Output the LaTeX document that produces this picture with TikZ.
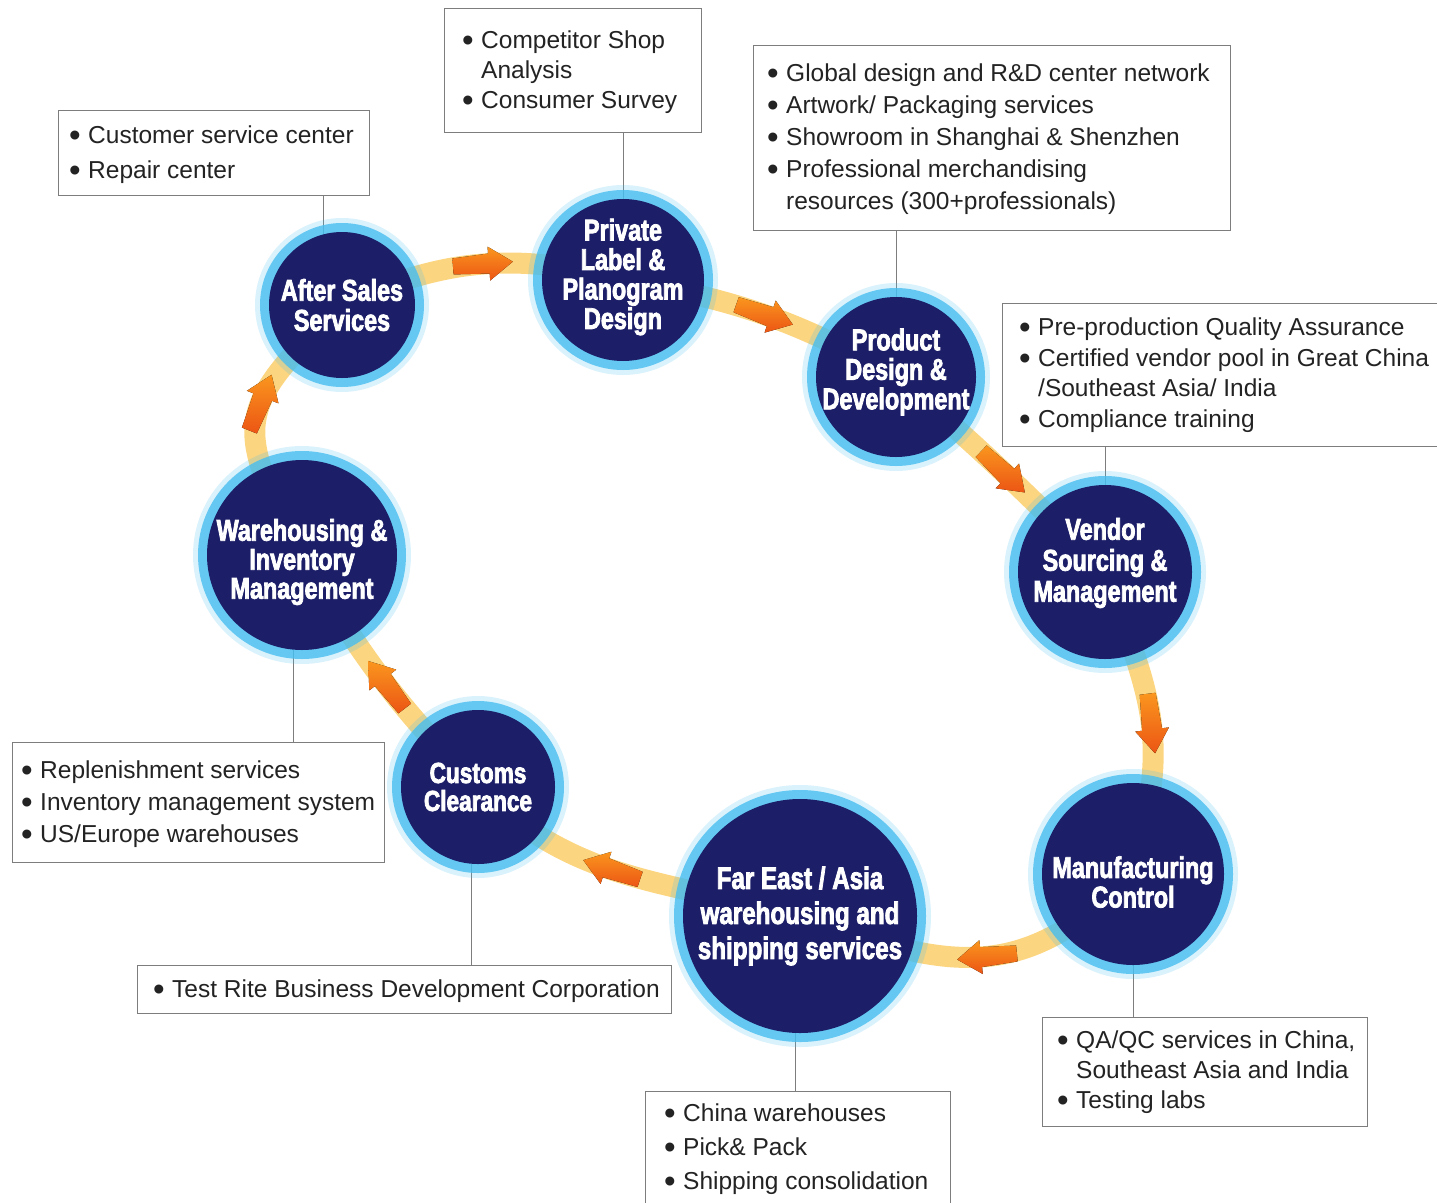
\documentclass[tikz,border=0pt]{standalone}
\usepackage{fontspec}
\setmainfont{Liberation Sans}
\newfontfamily\stepfont[FakeStretch=0.78,FakeBold=2.5]{Liberation Sans Bold}
\usetikzlibrary{arrows.meta,decorations.markings}
\definecolor{stepnavy}{RGB}{28,30,104}
\definecolor{stepglow}{RGB}{70,190,240}
\definecolor{bandorange}{RGB}{252,213,128}
\definecolor{arrowhi}{RGB}{250,150,30}
\definecolor{arrowlo}{RGB}{236,85,20}
\definecolor{boxline}{RGB}{125,125,125}
\definecolor{boxtext}{RGB}{35,35,35}
\pgfdeclarelayer{background}
\pgfsetlayers{background,main}
\newlength{\bulw}\setlength{\bulw}{19pt}
\newcommand{\bul}{\makebox[\bulw][l]{\raisebox{-3pt}{\scalebox{1.35}{\textbullet}}}}
\newcommand{\cont}{\hspace*{\bulw}}
\newcommand{\boxfont}[1]{\fontsize{24.5pt}{#1pt}\selectfont}
\newcommand{\stepsize}[2]{\fontsize{#1pt}{#2pt}\selectfont}
\newcommand{\flowarrow}{\fill[top color=arrowhi,bottom color=arrowlo] (-30pt,-8pt) -- (6pt,-10pt) -- (6pt,-17pt) -- (30pt,0pt) -- (6pt,17pt) -- (6pt,10pt) -- (-30pt,8pt) -- cycle;}
\begin{document}
\begin{tikzpicture}[x=1pt,y=1pt,
    stepnode/.style={circle,fill=stepnavy,inner sep=0pt,
      preaction={draw=stepglow,line width=28pt,draw opacity=0.2},
      preaction={draw=stepglow,line width=18pt,draw opacity=0.8}},
    steptext/.style={text=white,align=center,inner sep=0pt,font=\stepfont\stepsize{30}{30}},
    infobox/.style={draw=boxline,fill=white,line width=1pt,anchor=north west,inner sep=0pt},
    itemtext/.style={anchor=west,align=left,inner sep=0pt,text=boxtext},
    band/.style={draw=bandorange,line width=21pt},
    link/.style={draw=boxline,line width=1pt},
    flow/.style={postaction={decorate,decoration={markings,mark=at position #1 with {\flowarrow}}}}]
\useasboundingbox (0,0) rectangle (1437,-1202);

\node[stepnode,minimum size=146pt] (as) at (342,-305) {};
\node[stepnode,minimum size=162pt] (pl) at (623,-280) {};
\node[stepnode,minimum size=160pt] (pd) at (896,-377) {};
\node[stepnode,minimum size=174pt] (vs) at (1105,-572) {};
\node[stepnode,minimum size=182pt] (mc) at (1133,-874) {};
\node[stepnode,minimum size=234pt] (fe) at (800,-916) {};
\node[stepnode,minimum size=154pt] (cc) at (478,-787) {};
\node[stepnode,minimum size=190pt] (wh) at (302,-555) {};

\node[steptext] (astext) at (as) {After Sales\\Services};
\node[steptext,font=\stepfont\stepsize{30}{29.5}] (pltext) at ([yshift=3pt]pl) {Private\\Label \&\\Planogram\\Design};
\node[steptext,font=\stepfont\stepsize{30}{29.5}] (pdtext) at ([yshift=5pt]pd) {Product\\Design \&\\Development};
\node[steptext,font=\stepfont\stepsize{30}{31}] (vstext) at ([yshift=9pt]vs) {Vendor\\Sourcing \&\\Management};
\node[steptext,font=\stepfont\stepsize{30}{29.5}] (mctext) at ([yshift=-8pt]mc) {Manufacturing\\Control};
\node[steptext,font=\stepfont\stepsize{31}{35}] (fetext) at (fe) {Far East / Asia\\warehousing and\\shipping services};
\node[steptext,font=\stepfont\stepsize{29}{28}] (cctext) at (cc) {Customs\\Clearance};
\node[steptext,font=\stepfont\stepsize{30}{29}] (whtext) at ([yshift=-7pt]wh) {Warehousing \&\\Inventory\\Management};

\node[infobox,minimum width=311pt,minimum height=85pt] (asbox) at (58,-110) {};
\node[itemtext,font=\boxfont{35}] (asitems) at ([xshift=11pt,yshift=-2pt]asbox.west) {\bul Customer service center\\\bul Repair center};
\node[infobox,minimum width=257pt,minimum height=124pt] (plbox) at (444,-8) {};
\node[itemtext,font=\boxfont{30}] (plitems) at ([xshift=18pt,yshift=-2pt]plbox.west) {\bul Competitor Shop\\\cont Analysis\\\bul Consumer Survey};
\node[infobox,minimum width=477pt,minimum height=185pt] (pdbox) at (753,-45) {};
\node[itemtext,font=\boxfont{32}] (pditems) at ([xshift=14pt,yshift=-1pt]pdbox.west) {\bul Global design and R\&D center network\\\bul Artwork/ Packaging services\\\bul Showroom in Shanghai \& Shenzhen\\\bul Professional merchandising\\\cont resources (300+professionals)};
\node[infobox,minimum width=460pt,minimum height=143pt] (vsbox) at (1002,-303) {};
\node[itemtext,font=\boxfont{30.5}] (vsitems) at ([xshift=17pt]vsbox.west) {\bul Pre-production Quality Assurance\\\bul Certified vendor pool in Great China\\\cont /Southeast Asia/ India\\\bul Compliance training};
\node[infobox,minimum width=325pt,minimum height=109pt] (mcbox) at (1042,-1017) {};
\node[itemtext,font=\boxfont{30}] (mcitems) at ([xshift=15pt]mcbox.west) {\bul QA/QC services in China,\\\cont Southeast Asia and India\\\bul Testing labs};
\node[infobox,minimum width=305pt,minimum height=112pt] (febox) at (645,-1091) {};
\node[itemtext,font=\boxfont{34}] (feitems) at ([xshift=19pt,yshift=-2pt]febox.west) {\bul China warehouses\\\bul Pick\& Pack\\\bul Shipping consolidation};
\node[infobox,minimum width=534pt,minimum height=48pt] (ccbox) at (137,-965) {};
\node[itemtext,font=\boxfont{30}] (ccitems) at ([xshift=16pt,yshift=-2pt]ccbox.west) {\bul Test Rite Business Development Corporation};
\node[infobox,minimum width=372pt,minimum height=120pt] (whbox) at (12,-742) {};
\node[itemtext,font=\boxfont{32}] (whitems) at ([xshift=9pt,yshift=-2pt]whbox.west) {\bul Replenishment services\\\bul Inventory management system\\\bul US/Europe warehouses};

\begin{pgfonlayer}{background}
\draw[band,flow=0.51] (as.center) to[out=25,in=165] (pl.center);
\draw[band,flow=0.5] (pl.center) to[out=-10,in=150] (pd.center);
\draw[band,flow=0.5] (pd.center) to[out=-40,in=135] (vs.center);
\draw[band,flow=0.51] (vs.center) to[out=-70,in=75,looseness=1.2] (mc.center);
\draw[band,flow=0.47] (mc.center) to[out=225,in=-20,looseness=1.2] (fe.center);
\draw[band,flow=0.55] (fe.center) to[out=165,in=-45] (cc.center);
\draw[band,flow=0.47] (cc.center) to[out=135,in=-60] (wh.center);
\draw[band,flow=0.56] (wh.center) to[out=118,in=224,looseness=1.5] (as.center);
\draw[link] (as.105) -- (as.105 |- asbox.south);
\draw[link] (pl.north) -- (pl.north |- plbox.south);
\draw[link] (pd.north) -- (pd.north |- pdbox.south);
\draw[link] (vs.north) -- (vs.north |- vsbox.south);
\draw[link] (mc.south) -- (mc.south |- mcbox.north);
\draw[link] (fe.-92) -- (fe.-92 |- febox.north);
\draw[link] (cc.265) -- (cc.265 |- ccbox.north);
\draw[link] (wh.265) -- (wh.265 |- whbox.north);
\end{pgfonlayer}
\end{tikzpicture}
\end{document}
